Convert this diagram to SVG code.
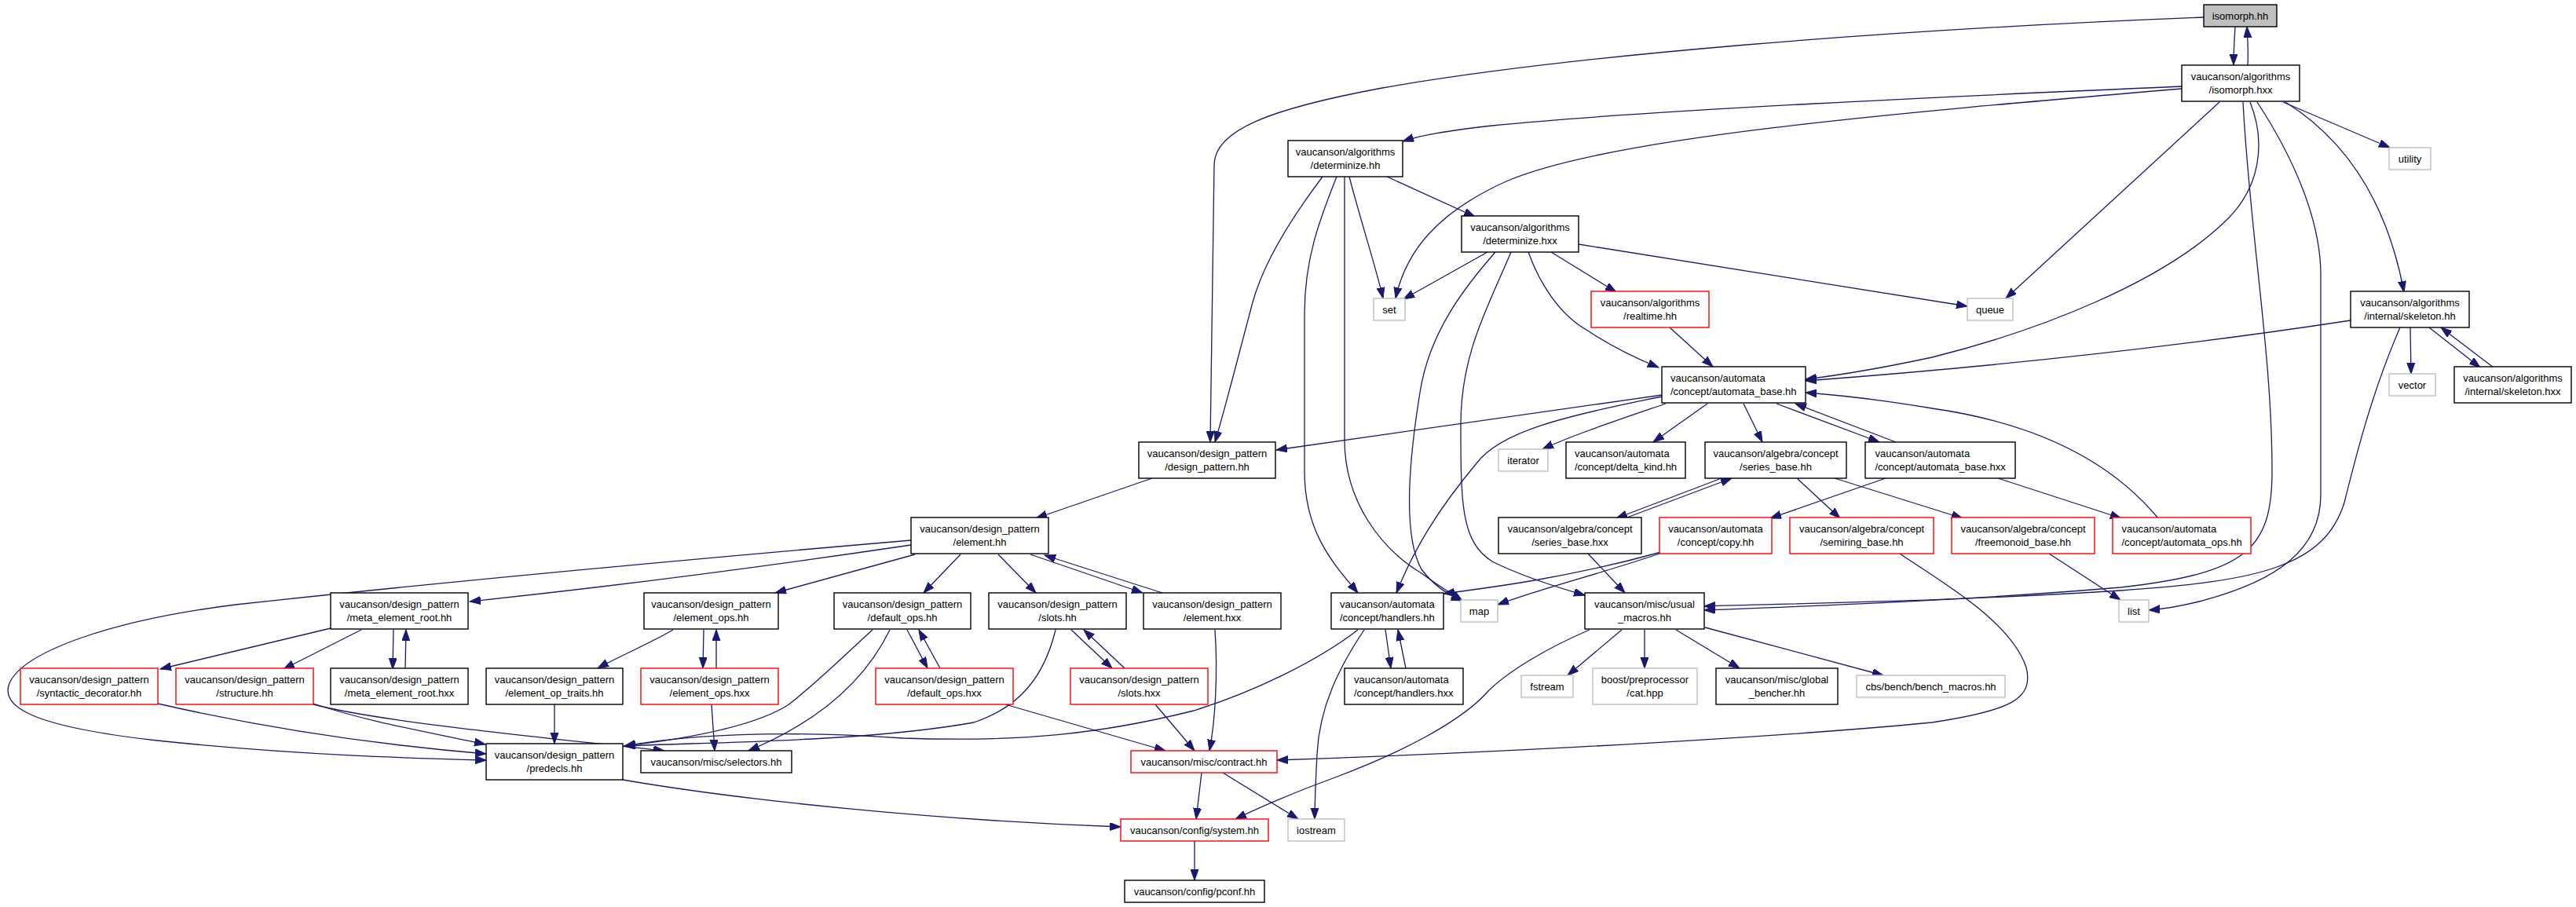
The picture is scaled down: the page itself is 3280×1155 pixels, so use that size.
<svg xmlns="http://www.w3.org/2000/svg" width="3280" height="1155" viewBox="0 0 3280 1155">
<defs>
<marker id="a" markerUnits="userSpaceOnUse" markerWidth="15" markerHeight="11" refX="14" refY="5" orient="auto"><path d="M0,0L14,5L0,10z" fill="#191970" stroke="#191970" stroke-width="1"/></marker>
<style>
rect{fill:#fff;stroke:#000;stroke-width:1.4}
.r rect{stroke:#ff0000}
.g rect{stroke:#bfbfbf}
.root rect{fill:#bfbfbf}
text{font-family:"Liberation Sans",Arial,sans-serif;font-size:13px;fill:#000;text-anchor:middle}
.l text{text-anchor:start}
#edges path{fill:none;stroke:#191970;stroke-width:1.3;marker-end:url(#a)}
</style>
</defs>
<rect x="0" y="0" width="3280" height="1155" style="fill:#fff;stroke:none"/>
<g id="edges">
<path d="M2846,34 C2845,50 2844,66 2844,83"/>
<path d="M2862,83 C2863,66 2862,50 2861,34"/>
<path d="M2806,22 C2400,38 2000,70 1760,112 C1620,138 1546,165 1546,210 L1541,563"/>
<path d="M2778,110 C2500,122 2100,140 1900,160 C1840,167 1810,172 1786,180"/>
<path d="M2778,113 C2400,145 2050,175 1920,230 C1830,270 1790,320 1777,380"/>
<path d="M2826,130 L2554,380"/>
<path d="M2865,130 C2885,180 2880,240 2830,285 C2750,360 2600,420 2460,455 C2390,470 2340,478 2299,483"/>
<path d="M2856,130 C2865,300 2893,450 2893,600 C2893,700 2860,730 2700,748 C2500,765 2300,772 2170,777"/>
<path d="M2874,130 C2920,200 2955,280 2955,350 L2955,630 C2955,700 2900,740 2800,766 C2780,771 2760,775 2736,777"/>
<path d="M2907,130 L3043,188"/>
<path d="M2910,130 C2990,180 3040,260 3061,372"/>
<path d="M1684,225 C1650,270 1610,330 1595,385 C1575,460 1560,520 1547,563"/>
<path d="M1702,225 C1680,280 1661,330 1661,400 L1661,600 C1661,680 1700,720 1729,755"/>
<path d="M1712,225 L1712,560 C1712,640 1760,700 1810,730 C1830,745 1850,757 1862,765"/>
<path d="M1718,225 C1735,290 1752,340 1761,380"/>
<path d="M1766,225 L1878,276"/>
<path d="M1894,321 L1787,381"/>
<path d="M1904,321 C1870,360 1820,420 1808,500 C1795,580 1785,680 1810,725 C1825,745 1845,758 1862,765"/>
<path d="M1924,321 C1895,390 1860,450 1860,540 C1860,640 1860,690 1900,715 C1940,735 1990,750 2018,758"/>
<path d="M1946,321 C1960,360 1985,400 2020,420 C2050,440 2080,455 2112,468"/>
<path d="M1975,321 L2058,372"/>
<path d="M2010,311 L2505,390"/>
<path d="M2126,417 L2181,467"/>
<path d="M2993,408 C2750,445 2500,470 2299,485"/>
<path d="M3069,417 L3070,476"/>
<path d="M3093,417 L3158,468"/>
<path d="M3175,468 L3108,417"/>
<path d="M3056,417 C3020,500 3000,580 2985,640 C2960,720 2880,740 2700,752 C2500,765 2300,768 2170,772"/>
<path d="M2116,503 L1625,573"/>
<path d="M2116,505 C1990,530 1910,550 1880,590 C1830,650 1800,700 1778,755"/>
<path d="M2121,514 C2060,535 2000,555 1964,572"/>
<path d="M2174,514 L2105,563"/>
<path d="M2220,514 L2244,563"/>
<path d="M2262,514 L2393,563"/>
<path d="M2414,563 L2286,514"/>
<path d="M2748,660 C2690,590 2600,540 2460,520 C2400,510 2340,503 2299,500"/>
<path d="M2192,609 L2058,660"/>
<path d="M2069,660 L2205,609"/>
<path d="M2288,609 L2343,660"/>
<path d="M2336,609 L2499,660"/>
<path d="M2401,609 L2254,660"/>
<path d="M2544,609 L2701,660"/>
<path d="M2022,705 L2069,755"/>
<path d="M2113,705 C2040,730 1960,750 1907,770"/>
<path d="M2115,703 C2000,735 1900,748 1838,756"/>
<path d="M2419,705 C2470,740 2560,790 2580,850 C2590,890 2560,905 2460,920 C2200,945 1800,962 1626,968"/>
<path d="M2609,705 L2700,764"/>
<path d="M1467,609 L1319,660"/>
<path d="M1160,688 C950,706 620,735 300,770 C140,790 30,830 12,870 C0,900 40,925 200,943 C380,962 540,966 619,968"/>
<path d="M1160,694 C950,725 750,750 598,766"/>
<path d="M1165,706 L987,755"/>
<path d="M1223,706 L1176,755"/>
<path d="M1271,706 L1319,755"/>
<path d="M1312,706 L1455,755"/>
<path d="M1480,755 L1330,707"/>
<path d="M421,800 L204,852"/>
<path d="M460,802 L361,852"/>
<path d="M501,802 L500,852"/>
<path d="M516,852 L517,802"/>
<path d="M201,896 C350,930 500,950 619,960"/>
<path d="M399,896 C470,920 560,935 618,948"/>
<path d="M399,897 C480,918 650,935 846,956"/>
<path d="M706,897 L706,947"/>
<path d="M857,802 C830,818 790,835 761,851"/>
<path d="M896,802 L895,851"/>
<path d="M912,851 L912,802"/>
<path d="M906,897 L910,956"/>
<path d="M1111,802 C1080,830 1040,870 1003,898 C960,925 880,940 795,950"/>
<path d="M1133,802 C1100,870 1040,920 953,956"/>
<path d="M1155,802 L1181,851"/>
<path d="M1197,851 L1170,802"/>
<path d="M1280,897 L1484,956"/>
<path d="M1344,802 C1330,860 1300,900 1240,920 C1100,945 900,945 795,950"/>
<path d="M1364,802 L1416,851"/>
<path d="M1432,851 L1380,802"/>
<path d="M1471,897 L1521,956"/>
<path d="M1547,802 C1551,860 1547,920 1540,956"/>
<path d="M1729,802 C1680,840 1600,880 1520,905 C1400,935 1300,945 1150,940 C1000,930 880,935 795,950"/>
<path d="M1737,802 C1705,850 1680,900 1677,960 C1675,1000 1674,1020 1674,1043"/>
<path d="M1764,802 L1771,851"/>
<path d="M1790,851 L1780,802"/>
<path d="M2024,802 C1970,825 1920,855 1895,880 C1860,920 1780,960 1700,990 C1640,1012 1600,1030 1573,1043"/>
<path d="M2065,802 L1996,860"/>
<path d="M2094,802 L2094,851"/>
<path d="M2134,802 L2215,851"/>
<path d="M2171,799 L2398,860"/>
<path d="M1530,984 L1523,1043"/>
<path d="M1557,984 L1653,1043"/>
<path d="M793,993 C950,1020 1200,1045 1427,1053"/>
<path d="M1521,1071 L1521,1121"/>
</g>
<g id="isomorph_hh" class="root"><rect x="2806" y="6" width="93" height="28"/><text x="2852.5" y="24.6">isomorph.hh</text></g>
<g id="isomorph_hxx"><rect x="2778" y="83" width="150" height="46"/><text x="2853" y="101.7">vaucanson/algorithms</text><text x="2853" y="119.4">/isomorph.hxx</text></g>
<g id="determinize_hh"><rect x="1640" y="179" width="146" height="46"/><text x="1713" y="197.7">vaucanson/algorithms</text><text x="1713" y="215.4">/determinize.hh</text></g>
<g id="utility" class="g"><rect x="3042" y="188" width="53" height="28"/><text x="3068.5" y="206.6">utility</text></g>
<g id="determinize_hxx"><rect x="1861" y="275" width="149" height="46"/><text x="1935.5" y="293.7">vaucanson/algorithms</text><text x="1935.5" y="311.4">/determinize.hxx</text></g>
<g id="set" class="g"><rect x="1749" y="380" width="40" height="28"/><text x="1769" y="398.6">set</text></g>
<g id="realtime_hh" class="r"><rect x="2026" y="371" width="150" height="46"/><text x="2101" y="389.7">vaucanson/algorithms</text><text x="2101" y="407.4">/realtime.hh</text></g>
<g id="queue" class="g"><rect x="2505" y="380" width="58" height="28"/><text x="2534" y="398.6">queue</text></g>
<g id="skeleton_hh"><rect x="2993" y="371" width="151" height="46"/><text x="3068.5" y="389.7">vaucanson/algorithms</text><text x="3068.5" y="407.4">/internal/skeleton.hh</text></g>
<g id="automata_base_hh" class="l"><rect x="2116" y="467" width="183" height="46"/><text x="2127" y="485.7">vaucanson/automata</text><text x="2127" y="503.4">/concept/automata_base.hh</text></g>
<g id="vector" class="g"><rect x="3042" y="476" width="59" height="28"/><text x="3071.5" y="494.6">vector</text></g>
<g id="skeleton_hxx"><rect x="3125" y="467" width="149" height="46"/><text x="3199.5" y="485.7">vaucanson/algorithms</text><text x="3199.5" y="503.4">/internal/skeleton.hxx</text></g>
<g id="design_pattern_hh"><rect x="1450" y="563" width="174" height="46"/><text x="1537" y="581.7">vaucanson/design_pattern</text><text x="1537" y="599.4">/design_pattern.hh</text></g>
<g id="iterator" class="g"><rect x="1908" y="572" width="63" height="28"/><text x="1939.5" y="590.6">iterator</text></g>
<g id="delta_kind_hh" class="l"><rect x="1994" y="563" width="152" height="46"/><text x="2005" y="581.7">vaucanson/automata</text><text x="2005" y="599.4">/concept/delta_kind.hh</text></g>
<g id="series_base_hh"><rect x="2171" y="563" width="180" height="46"/><text x="2261" y="581.7">vaucanson/algebra/concept</text><text x="2261" y="599.4">/series_base.hh</text></g>
<g id="automata_base_hxx" class="l"><rect x="2375" y="563" width="191" height="46"/><text x="2387.5" y="581.7">vaucanson/automata</text><text x="2387.5" y="599.4">/concept/automata_base.hxx</text></g>
<g id="element_hh"><rect x="1160" y="659" width="175" height="46"/><text x="1247.5" y="677.7">vaucanson/design_pattern</text><text x="1247.5" y="695.4">/element.hh</text></g>
<g id="series_base_hxx"><rect x="1908" y="659" width="182" height="46"/><text x="1999" y="677.7">vaucanson/algebra/concept</text><text x="1999" y="695.4">/series_base.hxx</text></g>
<g id="copy_hh" class="r"><rect x="2113" y="659" width="143" height="46"/><text x="2184.5" y="677.7">vaucanson/automata</text><text x="2184.5" y="695.4">/concept/copy.hh</text></g>
<g id="semiring_base_hh" class="r"><rect x="2279" y="659" width="183" height="46"/><text x="2370.5" y="677.7">vaucanson/algebra/concept</text><text x="2370.5" y="695.4">/semiring_base.hh</text></g>
<g id="freemonoid_base_hh" class="r"><rect x="2485" y="659" width="182" height="46"/><text x="2576" y="677.7">vaucanson/algebra/concept</text><text x="2576" y="695.4">/freemonoid_base.hh</text></g>
<g id="automata_ops_hh" class="r l"><rect x="2690" y="659" width="176" height="46"/><text x="2701.5" y="677.7">vaucanson/automata</text><text x="2701.5" y="695.4">/concept/automata_ops.hh</text></g>
<g id="meta_element_root_hh"><rect x="421" y="755" width="175" height="46"/><text x="508.5" y="773.7">vaucanson/design_pattern</text><text x="508.5" y="791.4">/meta_element_root.hh</text></g>
<g id="element_ops_hh"><rect x="820" y="755" width="171" height="46"/><text x="905.5" y="773.7">vaucanson/design_pattern</text><text x="905.5" y="791.4">/element_ops.hh</text></g>
<g id="default_ops_hh"><rect x="1062" y="755" width="174" height="46"/><text x="1149" y="773.7">vaucanson/design_pattern</text><text x="1149" y="791.4">/default_ops.hh</text></g>
<g id="slots_hh"><rect x="1259" y="755" width="175" height="46"/><text x="1346.5" y="773.7">vaucanson/design_pattern</text><text x="1346.5" y="791.4">/slots.hh</text></g>
<g id="element_hxx"><rect x="1456" y="755" width="175" height="46"/><text x="1543.5" y="773.7">vaucanson/design_pattern</text><text x="1543.5" y="791.4">/element.hxx</text></g>
<g id="handlers_hh" class="l"><rect x="1695" y="755" width="143" height="46"/><text x="1706" y="773.7">vaucanson/automata</text><text x="1706" y="791.4">/concept/handlers.hh</text></g>
<g id="map" class="g"><rect x="1860" y="764" width="47" height="28"/><text x="1883.5" y="782.6">map</text></g>
<g id="usual_macros_hh"><rect x="2018" y="755" width="152" height="46"/><text x="2094" y="773.7">vaucanson/misc/usual</text><text x="2094" y="791.4">_macros.hh</text></g>
<g id="list" class="g"><rect x="2698" y="764" width="38" height="28"/><text x="2717" y="782.6">list</text></g>
<g id="syntactic_decorator_hh" class="r"><rect x="26" y="851" width="175" height="46"/><text x="113.5" y="869.7">vaucanson/design_pattern</text><text x="113.5" y="887.4">/syntactic_decorator.hh</text></g>
<g id="structure_hh" class="r"><rect x="224" y="851" width="175" height="46"/><text x="311.5" y="869.7">vaucanson/design_pattern</text><text x="311.5" y="887.4">/structure.hh</text></g>
<g id="meta_element_root_hxx"><rect x="421" y="851" width="175" height="46"/><text x="508.5" y="869.7">vaucanson/design_pattern</text><text x="508.5" y="887.4">/meta_element_root.hxx</text></g>
<g id="element_op_traits_hh"><rect x="619" y="851" width="174" height="46"/><text x="706" y="869.7">vaucanson/design_pattern</text><text x="706" y="887.4">/element_op_traits.hh</text></g>
<g id="element_ops_hxx" class="r"><rect x="816" y="851" width="175" height="46"/><text x="903.5" y="869.7">vaucanson/design_pattern</text><text x="903.5" y="887.4">/element_ops.hxx</text></g>
<g id="default_ops_hxx" class="r"><rect x="1115" y="851" width="175" height="46"/><text x="1202.5" y="869.7">vaucanson/design_pattern</text><text x="1202.5" y="887.4">/default_ops.hxx</text></g>
<g id="slots_hxx" class="r"><rect x="1363" y="851" width="175" height="46"/><text x="1450.5" y="869.7">vaucanson/design_pattern</text><text x="1450.5" y="887.4">/slots.hxx</text></g>
<g id="handlers_hxx" class="l"><rect x="1712" y="851" width="151" height="46"/><text x="1724" y="869.7">vaucanson/automata</text><text x="1724" y="887.4">/concept/handlers.hxx</text></g>
<g id="fstream" class="g"><rect x="1937" y="860" width="66" height="28"/><text x="1970" y="878.6">fstream</text></g>
<g id="cat_hpp" class="g"><rect x="2028" y="851" width="133" height="46"/><text x="2094.5" y="869.7">boost/preprocessor</text><text x="2094.5" y="887.4">/cat.hpp</text></g>
<g id="global_bencher_hh"><rect x="2185" y="851" width="155" height="46"/><text x="2262.5" y="869.7">vaucanson/misc/global</text><text x="2262.5" y="887.4">_bencher.hh</text></g>
<g id="bench_macros_hh" class="g"><rect x="2364" y="860" width="189" height="28"/><text x="2458.5" y="878.6">cbs/bench/bench_macros.hh</text></g>
<g id="predecls_hh"><rect x="619" y="947" width="174" height="46"/><text x="706" y="965.7">vaucanson/design_pattern</text><text x="706" y="983.4">/predecls.hh</text></g>
<g id="selectors_hh"><rect x="816" y="956" width="192" height="28"/><text x="912" y="974.6">vaucanson/misc/selectors.hh</text></g>
<g id="contract_hh" class="r"><rect x="1440" y="956" width="186" height="28"/><text x="1533" y="974.6">vaucanson/misc/contract.hh</text></g>
<g id="system_hh" class="r"><rect x="1427" y="1043" width="188" height="28"/><text x="1521" y="1061.6">vaucanson/config/system.hh</text></g>
<g id="iostream" class="g"><rect x="1640" y="1043" width="72" height="28"/><text x="1676" y="1061.6">iostream</text></g>
<g id="pconf_hh"><rect x="1432" y="1121" width="178" height="28"/><text x="1521" y="1139.6">vaucanson/config/pconf.hh</text></g>
</svg>
